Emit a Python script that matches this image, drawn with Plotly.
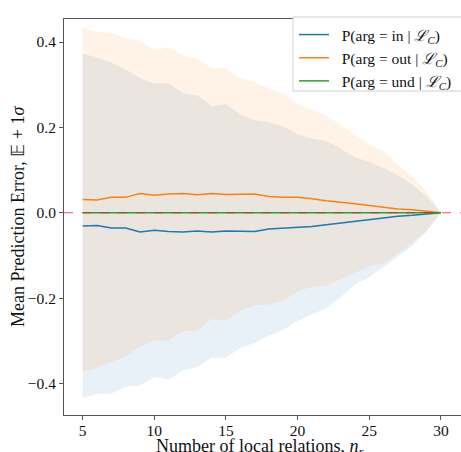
import plotly.graph_objects as go

n_r = list(range(5, 31))

mean_in = [-0.031, -0.030, -0.036, -0.036, -0.045, -0.041, -0.044, -0.045, -0.043, -0.045,
           -0.043, -0.043, -0.044, -0.038, -0.036, -0.035, -0.032, -0.028, -0.024, -0.019,
           -0.016, -0.011, -0.008, -0.006, -0.003, 0.000]
std_in = [0.404, 0.394, 0.388, 0.372, 0.360, 0.344, 0.347, 0.325, 0.318, 0.295,
          0.297, 0.274, 0.261, 0.250, 0.238, 0.219, 0.206, 0.196, 0.174, 0.149,
          0.135, 0.116, 0.096, 0.072, 0.041, 0.000]

mean_out = [0.031, 0.030, 0.036, 0.036, 0.045, 0.041, 0.044, 0.045, 0.042, 0.045,
            0.043, 0.043, 0.044, 0.038, 0.036, 0.036, 0.033, 0.028, 0.025, 0.021,
            0.017, 0.013, 0.009, 0.007, 0.004, 0.000]
std_out = [0.404, 0.393, 0.386, 0.373, 0.358, 0.340, 0.344, 0.323, 0.318, 0.294,
           0.296, 0.272, 0.261, 0.253, 0.243, 0.220, 0.207, 0.199, 0.181, 0.161,
           0.143, 0.131, 0.104, 0.078, 0.046, 0.000]

mean_und = [0.0] * 26
std_und = [0.0] * 26

series = [
    ("\u00a0\u00a0P(arg = in | <i>ℒ</i><sub><i>C</i></sub>)", mean_in, std_in, "#1f77b4", "rgba(31,119,180,0.1)"),
    ("\u00a0\u00a0P(arg = out | <i>ℒ</i><sub><i>C</i></sub>)", mean_out, std_out, "#ff7f0e", "rgba(255,127,14,0.1)"),
    ("\u00a0\u00a0P(arg = und | <i>ℒ</i><sub><i>C</i></sub>)", mean_und, std_und, "#2ca02c", "rgba(44,160,44,0.1)"),
]

FONT = "Liberation Serif"

fig = go.Figure()
for name, m, s, col, fcol in series:
    lo = [a - b for a, b in zip(m, s)]
    hi = [a + b for a, b in zip(m, s)]
    fig.add_trace(go.Scatter(x=n_r, y=lo, mode="lines", line=dict(width=0),
                             showlegend=False, hoverinfo="skip"))
    fig.add_trace(go.Scatter(x=n_r, y=hi, mode="lines", line=dict(width=0),
                             fill="tonexty", fillcolor=fcol,
                             showlegend=False, hoverinfo="skip"))

for name, m, s, col, fcol in series:
    fig.add_trace(go.Scatter(x=n_r, y=m, mode="lines", name=name,
                             line=dict(color=col, width=1.5)))

# figure is 470 px wide (window 461 clips the right spine off, as in the reference)
W, H = 470, 452
L, T, B = 64, 19, 37
PW, PH = W - L, H - T - B

fig.add_shape(type="line", xref="paper", yref="y", x0=0, x1=1, y0=0, y1=0,
              line=dict(color="rgba(214,39,40,0.75)", width=1, dash="dash"), layer="above")
# legend frame
fig.add_shape(type="rect", xref="paper", yref="paper",
              x0=(293 - L) / PW, x1=1.05, y0=(415 - 91) / PH, y1=(415 - 17) / PH,
              fillcolor="white", line=dict(color="#d0d0d0", width=1), layer="above")

fig.add_annotation(text="Number of local relations, <i>n</i><sub><i>r</i></sub>",
                   xref="paper", yref="paper", x=(259 - L) / PW, y=-(447 - 415) / PH,
                   xanchor="center", yanchor="middle", showarrow=False,
                   font=dict(family=FONT, size=18, color="#111"))
fig.add_annotation(text="Mean Prediction Error, 𝔼 + 1<i>σ</i>",
                   xref="paper", yref="paper", x=-(L - 18) / PW, y=(415 - 217) / PH,
                   xanchor="center", yanchor="middle", textangle=-90, showarrow=False,
                   font=dict(family=FONT, size=18, color="#111"))

fig.update_layout(
    width=W, height=H,
    margin=dict(l=L, r=0, t=T, b=B, autoexpand=False),
    paper_bgcolor="white", plot_bgcolor="white",
    font=dict(family=FONT, size=15, color="#111"),
    showlegend=True,
    legend=dict(x=(294 - L) / PW, xanchor="left", y=(415 - 18) / PH, yanchor="top",
                traceorder="normal",
                bgcolor="rgba(0,0,0,0)", borderwidth=0,
                font=dict(family=FONT, size=15.5), tracegroupgap=0,
                itemwidth=30),
)
fig.update_xaxes(
    range=[3.7, 32.03], tickvals=[5, 10, 15, 20, 25, 30],
    showgrid=False, zeroline=False, automargin=False,
    showline=True, mirror=True, linecolor="#555", linewidth=1,
    ticks="outside", ticklen=4, tickcolor="#555", ticklabelstandoff=-3,
    tickfont=dict(family=FONT, size=15.5, color="#111"),
)
fig.update_yaxes(
    range=[-0.474, 0.454], tickvals=[-0.4, -0.2, 0.0, 0.2, 0.4],
    ticktext=["\u22120.4", "\u22120.2", "0.0", "0.2", "0.4"],
    showgrid=False, zeroline=False, automargin=False,
    showline=True, mirror=False, linecolor="#555", linewidth=1,
    ticks="outside", ticklen=4, tickcolor="#555",
    tickfont=dict(family=FONT, size=15.5, color="#111"),
)

fig.write_html("out.html", config={"displayModeBar": False},
               post_script="document.body.style.margin='0';document.body.style.overflow='hidden';")
